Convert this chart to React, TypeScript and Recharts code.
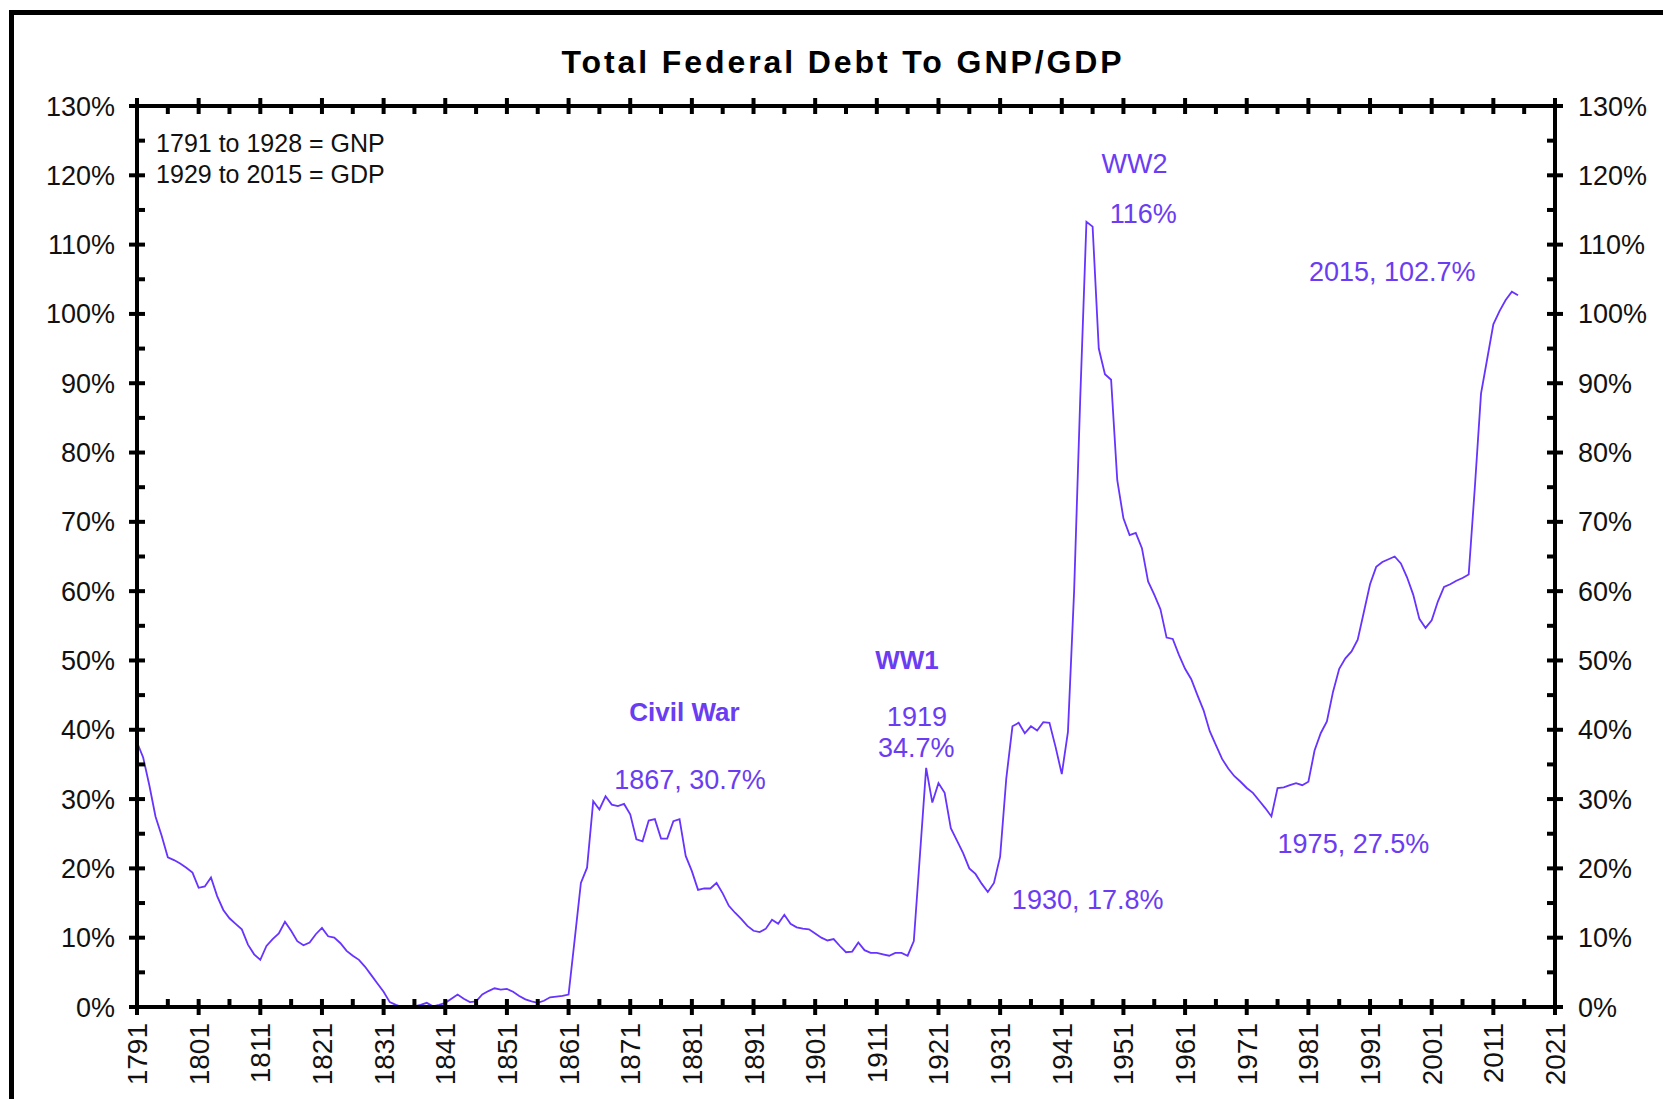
import React from 'react'
import { LineChart, Line, XAxis, YAxis, ReferenceDot } from 'recharts'

// Total federal debt as % of GNP (1791-1928) and GDP (1929-2015), one value per year
const START_YEAR = 1791
const debtPct = [
  38.2, 36.0, 32.0, 27.5, 24.7, 21.6, 21.2, 20.7, 20.1, 19.4,
  17.2, 17.4, 18.7, 16.0, 14.0, 12.8, 12.0, 11.2, 9.0, 7.6,
  6.8, 8.8, 9.8, 10.6, 12.3, 11.0, 9.5, 8.9, 9.3, 10.5,
  11.4, 10.2, 10.0, 9.2, 8.1, 7.4, 6.8, 5.8, 4.6, 3.4,
  2.2, 0.7, 0.3, 0.0, 0.0, 0.1, 0.3, 0.6, 0.1, 0.3,
  0.6, 1.2, 1.8, 1.2, 0.7, 0.8, 1.8, 2.3, 2.7, 2.5,
  2.6, 2.2, 1.6, 1.1, 0.8, 0.6, 0.9, 1.4, 1.5, 1.6,
  1.8, 9.8, 17.9, 20.1, 29.7, 28.5, 30.4, 29.2, 29.0, 29.3,
  27.8, 24.2, 23.9, 26.9, 27.1, 24.3, 24.3, 26.8, 27.1, 21.8,
  19.6, 16.9, 17.1, 17.1, 17.9, 16.4, 14.6, 13.6, 12.7, 11.7,
  11.0, 10.8, 11.3, 12.6, 12.0, 13.3, 12.0, 11.5, 11.3, 11.2,
  10.6, 10.0, 9.6, 9.8, 8.8, 7.9, 8.0, 9.3, 8.2, 7.8,
  7.8, 7.6, 7.4, 7.8, 7.8, 7.4, 9.5, 22.0, 34.5, 29.5,
  32.3, 30.9, 25.8, 24.0, 22.2, 20.0, 19.2, 17.8, 16.6, 17.9,
  21.7, 33.0, 40.5, 41.0, 39.5, 40.5, 39.9, 41.1, 41.0, 37.5,
  33.6, 39.7, 60.0, 88.0, 113.3, 112.6, 95.0, 91.3, 90.5, 76.0,
  70.5, 68.1, 68.4, 66.2, 61.4, 59.5, 57.4, 53.3, 53.1, 50.8,
  48.8, 47.3, 45.0, 42.8, 39.8, 37.8, 35.8, 34.4, 33.3, 32.5,
  31.6, 30.9, 29.8, 28.7, 27.5, 31.6, 31.7, 32.0, 32.3, 32.0,
  32.5, 37.0, 39.5, 41.2, 45.5, 48.8, 50.3, 51.3, 53.0, 57.0,
  61.0, 63.5, 64.2, 64.6, 65.0, 64.0, 62.0, 59.5, 56.0, 54.7,
  55.8, 58.5, 60.6, 61.0, 61.5, 61.9, 62.4, 75.0, 88.5, 93.5,
  98.5, 100.4, 102.0, 103.2, 102.7,
]

const xTicks = [
  1791, 1796, 1801, 1806, 1811, 1816, 1821, 1826, 1831, 1836, 1841, 1846,
  1851, 1856, 1861, 1866, 1871, 1876, 1881, 1886, 1891, 1896, 1901, 1906,
  1911, 1916, 1921, 1926, 1931, 1936, 1941, 1946, 1951, 1956, 1961, 1966,
  1971, 1976, 1981, 1986, 1991, 1996, 2001, 2006, 2011, 2016, 2021,
]
const yTicks = [0, 5, 10, 15, 20, 25, 30, 35, 40, 45, 50, 55, 60, 65, 70, 75, 80, 85, 90, 95, 100, 105, 110, 115, 120, 125, 130]

// annotation texts and where they sit (year, percent)
const notes = [
  { text: '1791 to 1928 = GNP', year: 1794.1, pct: 123.3, kind: 'source' },
  { text: '1929 to 2015 = GDP', year: 1794.1, pct: 118.9, kind: 'source' },
  { text: 'Civil War', year: 1879.8, pct: 41.2, kind: 'event' },
  { text: '1867, 30.7%', year: 1880.7, pct: 31.4, kind: 'value' },
  { text: 'WW1', year: 1915.9, pct: 48.7, kind: 'event' },
  { text: '1919', year: 1917.5, pct: 40.6, kind: 'value' },
  { text: '34.7%', year: 1917.4, pct: 36.0, kind: 'value' },
  { text: '1930, 17.8%', year: 1945.2, pct: 14.1, kind: 'value' },
  { text: 'WW2', year: 1952.8, pct: 120.3, kind: 'value' },
  { text: '116%', year: 1954.2, pct: 113.1, kind: 'value' },
  { text: '2015, 102.7%', year: 1994.6, pct: 104.8, kind: 'value' },
  { text: '1975, 27.5%', year: 1988.3, pct: 22.2, kind: 'value' },
]

const FONT = '"Liberation Sans", Arial, sans-serif'
const LINE_COLOR = '#6633ff'
const NOTE_COLOR = '#6a3cf2'
const TICK_W = 4

const data = debtPct.map((v, i) => ({ year: START_YEAR + i, debt: v }))

const isMajorYear = (v: number) => (v - START_YEAR) % 10 === 0
const isMajorPct = (v: number) => v % 10 === 0

function BottomTick({ x, y, payload }: any) {
  const major = isMajorYear(payload.value)
  return (
    <g>
      <line x1={x} x2={x} y1={y - 8} y2={major ? y + 8 : y} stroke="#000" strokeWidth={TICK_W} />
      {major && (
        <text
          x={x + 10}
          y={y + 16}
          transform={`rotate(-90 ${x + 10} ${y + 16})`}
          textAnchor="end"
          fontSize={28}
          fontFamily={FONT}
          fill="#111"
        >
          {payload.value}
        </text>
      )}
    </g>
  )
}

function TopTick({ x, y, payload }: any) {
  const major = isMajorYear(payload.value)
  return <line x1={x} x2={x} y1={major ? y - 8 : y} y2={y + 8} stroke="#000" strokeWidth={TICK_W} />
}

function LeftTick({ x, y, payload }: any) {
  const major = isMajorPct(payload.value)
  return (
    <g>
      <line x1={major ? x - 8 : x} x2={x + 8} y1={y} y2={y} stroke="#000" strokeWidth={TICK_W} />
      {major && (
        <text x={x - 22} y={y} dy={9.5} textAnchor="end" fontSize={27} fontFamily={FONT} fill="#111">
          {payload.value}%
        </text>
      )}
    </g>
  )
}

function RightTick({ x, y, payload }: any) {
  const major = isMajorPct(payload.value)
  return (
    <g>
      <line x1={x - 8} x2={major ? x + 8 : x} y1={y} y2={y} stroke="#000" strokeWidth={TICK_W} />
      {major && (
        <text x={x + 23} y={y} dy={9.5} textAnchor="start" fontSize={27} fontFamily={FONT} fill="#111">
          {payload.value}%
        </text>
      )}
    </g>
  )
}

function noteShape(n: (typeof notes)[number]) {
  return (p: any) => {
    const source = n.kind === 'source'
    return (
      <text
        x={p.cx}
        y={p.cy}
        textAnchor={source ? 'start' : 'middle'}
        fontSize={source ? 25 : n.kind === 'event' ? 26 : 27}
        fontWeight={n.kind === 'event' ? 'bold' : 'normal'}
        fontFamily={FONT}
        fill={source ? '#111' : NOTE_COLOR}
      >
        {n.text}
      </text>
    )
  }
}

export default function App() {
  return (
    <div
      style={{
        position: 'absolute',
        left: 0,
        top: 0,
        width: 1663,
        height: 1099,
        overflow: 'hidden',
        background: '#fff',
        fontFamily: FONT,
      }}
    >
      <div
        style={{
          position: 'absolute',
          left: 9,
          top: 10,
          width: 1720,
          height: 1200,
          border: '5px solid #000',
          boxSizing: 'border-box',
        }}
      />
      <div
        style={{
          position: 'absolute',
          left: 0,
          top: 46,
          width: 1686,
          textAlign: 'center',
          fontSize: 32,
          lineHeight: '32px',
          fontWeight: 'bold',
          letterSpacing: 2.9,
          color: '#000',
        }}
      >
        Total Federal Debt To GNP/GDP
      </div>
      <div style={{ position: 'absolute', left: 0, top: 0 }}>
        <LineChart width={1663} height={1099} data={data} margin={{ top: 105, right: 8, bottom: 11, left: 37 }}>
          <XAxis
            xAxisId="bottom"
            dataKey="year"
            type="number"
            domain={[1791, 2021]}
            ticks={xTicks}
            interval={0}
            height={81}
            tickSize={0}
            tickMargin={0}
            axisLine={{ stroke: '#000', strokeWidth: 4 }}
            tickLine={false}
            tick={<BottomTick />}
          />
          <XAxis
            xAxisId="top"
            orientation="top"
            dataKey="year"
            type="number"
            domain={[1791, 2021]}
            ticks={xTicks}
            interval={0}
            height={1}
            tickSize={0}
            tickMargin={0}
            axisLine={{ stroke: '#000', strokeWidth: 4 }}
            tickLine={false}
            tick={<TopTick />}
          />
          <YAxis
            yAxisId="left"
            type="number"
            domain={[0, 130]}
            ticks={yTicks}
            interval={0}
            width={100}
            tickSize={0}
            tickMargin={0}
            axisLine={{ stroke: '#000', strokeWidth: 4 }}
            tickLine={false}
            tick={<LeftTick />}
          />
          <YAxis
            yAxisId="right"
            orientation="right"
            type="number"
            domain={[0, 130]}
            ticks={yTicks}
            interval={0}
            width={100}
            tickSize={0}
            tickMargin={0}
            axisLine={{ stroke: '#000', strokeWidth: 4 }}
            tickLine={false}
            tick={<RightTick />}
          />
          {/* same series on the right scale, invisible, so the mirrored axis gets its ticks */}
          <Line
            xAxisId="top"
            yAxisId="right"
            type="linear"
            dataKey="debt"
            stroke="none"
            dot={false}
            activeDot={false}
            legendType="none"
            isAnimationActive={false}
          />
          <Line
            xAxisId="bottom"
            yAxisId="left"
            type="linear"
            dataKey="debt"
            stroke={LINE_COLOR}
            strokeWidth={1.8}
            dot={false}
            isAnimationActive={false}
          />
          {notes.map((n) => (
            <ReferenceDot
              key={n.text}
              xAxisId="bottom"
              yAxisId="left"
              x={n.year}
              y={n.pct}
              r={0}
              ifOverflow="visible"
              shape={noteShape(n)}
            />
          ))}
        </LineChart>
      </div>
    </div>
  )
}
